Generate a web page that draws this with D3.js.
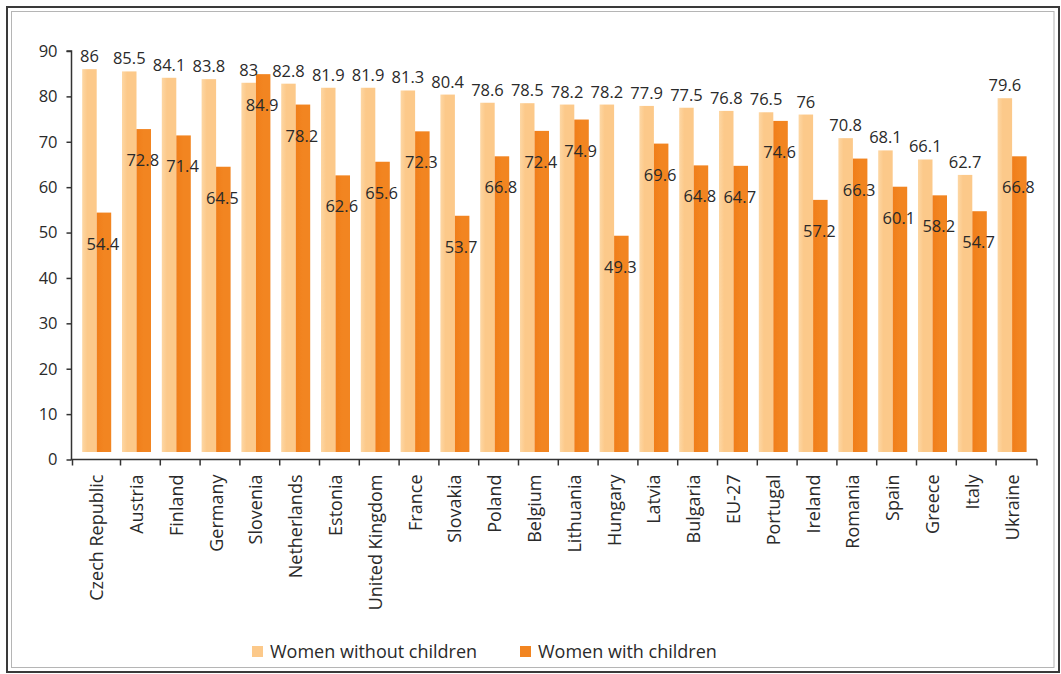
<!DOCTYPE html>
<html>
<head>
<meta charset="utf-8">
<script src="https://cdn.jsdelivr.net/npm/d3@7"></script>
<style>
  html, body { margin: 0; padding: 0; background: #fff; }
  svg { display: block; font-family: "Open Sans", "Noto Sans", sans-serif; }
</style>
</head>
<body>
<svg id="chart" width="1061" height="674"></svg>
<script>
const categories = ["Czech Republic","Austria","Finland","Germany","Slovenia","Netherlands","Estonia","United Kingdom","France","Slovakia","Poland","Belgium","Lithuania","Hungary","Latvia","Bulgaria","EU-27","Portugal","Ireland","Romania","Spain","Greece","Italy","Ukraine"];
const withoutChildren = [86,85.5,84.1,83.8,83,82.8,81.9,81.9,81.3,80.4,78.6,78.5,78.2,78.2,77.9,77.5,76.8,76.5,76,70.8,68.1,66.1,62.7,79.6];
const withChildren = [54.4,72.8,71.4,64.5,84.9,78.2,62.6,65.6,72.3,53.7,66.8,72.4,74.9,49.3,69.6,64.8,64.7,74.6,57.2,66.3,60.1,58.2,54.7,66.8];
const seriesNames = ["Women without children","Women with children"];
const yTicks = [0,10,20,30,40,50,60,70,80,90];

const colors = ["#FCC98A", "#F28521"];
const textColor = "#2a2a2a";

const svg = d3.select("#chart");

// gradients giving the bars a slight sheen
const defs = svg.append("defs");
const g0 = defs.append("linearGradient").attr("id","gLight").attr("x1","0").attr("x2","1").attr("y1","0").attr("y2","0");
g0.append("stop").attr("offset","0").attr("stop-color","#FDD7A4");
g0.append("stop").attr("offset","0.35").attr("stop-color",colors[0]);
g0.append("stop").attr("offset","1").attr("stop-color",colors[0]);
const g1 = defs.append("linearGradient").attr("id","gDark").attr("x1","0").attr("x2","1").attr("y1","0").attr("y2","0");
g1.append("stop").attr("offset","0").attr("stop-color","#F07E1A");
g1.append("stop").attr("offset","0.5").attr("stop-color",colors[1]);
g1.append("stop").attr("offset","1").attr("stop-color",colors[1]);

// frame
svg.append("rect").attr("x",7).attr("y",7).attr("width",1052).attr("height",665)
  .attr("fill","none").attr("stroke","#3a3a3a").attr("stroke-width",2);
svg.append("rect").attr("x",11.5).attr("y",11.5).attr("width",1042.5).attr("height",656)
  .attr("fill","none").attr("stroke","#b5b5b5").attr("stroke-width",1);

const axisX0 = 71.5, axisX1 = 1037;
const y = d3.scaleLinear().domain([0,90]).range([459.5, 51]);

// category bands (bars sit in the left part of each band)
const x = d3.scaleBand().domain(categories).range([81.2, 81.2 + 39.8*categories.length]).paddingInner(0).paddingOuter(0);
const barW = 14.5;
const barBottom = y(0) - 7.5;

// y axis
const yAxis = d3.axisLeft(y).tickValues(yTicks).tickSize(5).tickPadding(9).tickFormat(d3.format("d"));
const gy = svg.append("g").attr("transform",`translate(${axisX0},0)`).call(yAxis);
gy.select(".domain").attr("stroke","#333").attr("stroke-width",1.5).attr("d",`M-5,${y(90)}H0V${y(0)}`);
gy.selectAll(".tick line").attr("stroke","#333").attr("stroke-width",1.5);
gy.selectAll(".tick text").attr("fill",textColor).style("font-size","16.5px").style("font-family","'Open Sans', sans-serif");

// x axis line and ticks
const gx = svg.append("g");
gx.append("line").attr("x1",axisX0-0.75).attr("x2",axisX1).attr("y1",y(0)).attr("y2",y(0)).attr("stroke","#333").attr("stroke-width",1.5);
const tickXs = [axisX0+1].concat(categories.slice(1).map(c => x(c) - 0.5)).concat([axisX1]);
gx.selectAll("line.tk").data(tickXs).join("line").attr("class","tk")
  .attr("x1",d=>d).attr("x2",d=>d).attr("y1",y(0)).attr("y2",y(0)+6)
  .attr("stroke","#333").attr("stroke-width",1.5);

// category labels
gx.selectAll("text.cat").data(categories).join("text").attr("class","cat")
  .attr("transform", c => `translate(${x(c)+1+barW+6.5},${y(0)+15}) rotate(-90)`)
  .attr("text-anchor","end").attr("fill",textColor).style("font-size","18px")
  .text(c => c);

// bars
const groups = svg.append("g").selectAll("g").data(categories).join("g")
  .attr("transform", c => `translate(${x(c)+1},0)`);

groups.append("rect").attr("x",0).attr("width",barW)
  .attr("y",(c,i)=>y(withoutChildren[i])).attr("height",(c,i)=>barBottom - y(withoutChildren[i]))
  .attr("fill","url(#gLight)");
groups.append("rect").attr("x",barW).attr("width",barW)
  .attr("y",(c,i)=>y(withChildren[i])).attr("height",(c,i)=>barBottom - y(withChildren[i]))
  .attr("fill","url(#gDark)");

// value labels
groups.append("text").attr("x",barW/2).attr("y",(c,i)=>y(withoutChildren[i]) - 7)
  .attr("text-anchor","middle").attr("fill",textColor).style("font-size","16.5px")
  .text((c,i)=>withoutChildren[i]);
groups.append("text").attr("x",barW*1.5 - 1).attr("y",(c,i)=>y(withChildren[i]) + 37)
  .attr("text-anchor","middle").attr("fill",textColor).style("font-size","16.5px")
  .text((c,i)=>withChildren[i]);

// legend
const legend = svg.append("g");
const legX = [252, 520];
seriesNames.forEach((n,i)=>{
  legend.append("rect").attr("x",legX[i]).attr("y",646).attr("width",11).attr("height",11).attr("fill",colors[i]);
  legend.append("text").attr("x",legX[i]+18).attr("y",658).attr("fill",textColor).style("font-size","18px").text(n);
});
</script>
</body>
</html>
